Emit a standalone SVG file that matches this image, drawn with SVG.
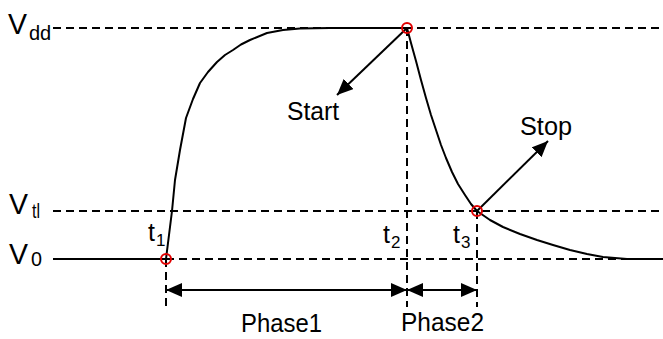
<svg xmlns="http://www.w3.org/2000/svg" width="663" height="339" viewBox="0 0 663 339">
  <style>
    .dash { stroke: #000; stroke-width: 2; stroke-dasharray: 8 5; fill: none; }
    .solid { stroke: #000; stroke-width: 2; fill: none; }
    .curve { stroke: #000; stroke-width: 2; fill: none; stroke-linejoin: round; }
    .pt { stroke: #e00000; stroke-width: 2; fill: none; }
    .arr { stroke: #000; stroke-width: 2; fill: none; }
    text { font-family: "Liberation Sans", Arial, sans-serif; fill: #000; }
    .big { font-size: 30px; }
    .lbl { font-size: 25px; }
    .sub { font-size: 20px; }
    .tsub { font-size: 17px; }
  </style>
  <defs>
    <marker id="ah" markerUnits="userSpaceOnUse" markerWidth="17" markerHeight="14" refX="16" refY="7" orient="auto-start-reverse">
      <path d="M0,0 L16,7 L0,14 z" fill="#000"/>
    </marker>
  </defs>

  <g id="levels">
    <line class="dash" x1="53" y1="28" x2="663" y2="28"/>
    <line class="dash" x1="53" y1="211" x2="663" y2="211"/>
    <line class="solid" x1="53" y1="259" x2="166" y2="259"/>
    <line class="dash" x1="166" y1="259" x2="663" y2="259"/>
    <line class="dash" x1="166" y1="259" x2="166" y2="307"/>
    <line class="dash" x1="407" y1="28" x2="407" y2="307"/>
    <line class="dash" x1="477" y1="211" x2="477" y2="307"/>
  </g>

  <g id="signal">
    <polyline class="curve" points="166,259 169,235 172,211 175,180 180,150 186,118 193,99 200,83 208,72 217,62 225,55 233,50 241,44.5 250,40 267,33 283,30 300,28.5 330,28 407,28"/>
    <polyline class="curve" points="407,28 411,43 416,61 421,80 426,98 431,115 436,130 441,145 446,158 452,172 458,184 465,195 471,204 477,211 490,220 503,227 520,234 537,240 553,245 570,250 587,254 603,257 627,259 663,259"/>
  </g>

  <g id="connectors">
    <line class="arr" x1="407" y1="28" x2="337" y2="95" marker-end="url(#ah)"/>
    <line class="arr" x1="477" y1="211" x2="548" y2="141" marker-end="url(#ah)"/>
    <line class="arr" x1="166" y1="290" x2="407" y2="290" marker-start="url(#ah)" marker-end="url(#ah)"/>
    <line class="arr" x1="407" y1="290" x2="477" y2="290" marker-start="url(#ah)" marker-end="url(#ah)"/>
  </g>

  <g id="points">
    <circle class="pt" cx="166" cy="259" r="5"/>
    <circle class="pt" cx="407" cy="28" r="5"/>
    <circle class="pt" cx="477" cy="211" r="5"/>
  </g>

  <g id="label-vdd">
    <text class="big" x="8" y="34" textLength="19" lengthAdjust="spacingAndGlyphs">V</text>
    <text class="sub" x="29" y="40">dd</text>
  </g>
  <g id="label-vtl">
    <text class="big" x="9" y="214" textLength="19" lengthAdjust="spacingAndGlyphs">V</text>
    <text class="sub" x="32" y="218" textLength="8" lengthAdjust="spacingAndGlyphs">tl</text>
  </g>
  <g id="label-v0">
    <text class="big" x="9" y="264" textLength="19" lengthAdjust="spacingAndGlyphs">V</text>
    <text class="sub" x="31" y="266" textLength="11" lengthAdjust="spacingAndGlyphs">0</text>
  </g>
  <g id="label-t1">
    <text class="lbl" x="148" y="241">t</text>
    <text class="tsub" x="156" y="246">1</text>
  </g>
  <g id="label-t2">
    <text class="lbl" x="383" y="243">t</text>
    <text class="tsub" x="391" y="248">2</text>
  </g>
  <g id="label-t3">
    <text class="lbl" x="453" y="243">t</text>
    <text class="tsub" x="461" y="248">3</text>
  </g>
  <g id="label-start">
    <text class="lbl" x="287" y="120" textLength="52" lengthAdjust="spacingAndGlyphs">Start</text>
  </g>
  <g id="label-stop">
    <text class="lbl" x="520" y="135" textLength="52" lengthAdjust="spacingAndGlyphs">Stop</text>
  </g>
  <g id="label-phase1">
    <text class="lbl" x="241" y="332" textLength="81" lengthAdjust="spacingAndGlyphs">Phase1</text>
  </g>
  <g id="label-phase2">
    <text class="lbl" x="401" y="331" textLength="83" lengthAdjust="spacingAndGlyphs">Phase2</text>
  </g>
</svg>
